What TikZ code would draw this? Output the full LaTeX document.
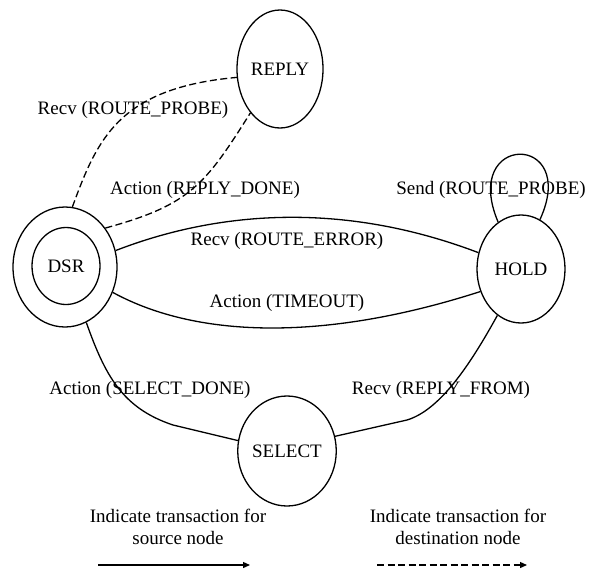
\documentclass[tikz,border=0pt]{standalone}
\usepackage{fontspec}
\setmainfont{Liberation Serif}
\usetikzlibrary{shapes.geometric,arrows.meta}

\tikzset{
	state/.style={draw,ellipse,line width=1.3pt,inner sep=0pt},
	srcline/.style={line width=1.3pt},
	dstline/.style={line width=1.3pt,dash pattern=on 7pt off 3.5pt},
	lbl/.style={font=\fontsize{19}{21.5}\selectfont,inner sep=1pt}
}

\begin{document}
\begin{tikzpicture}[x=1pt,y=-1pt,lbl]
	\useasboundingbox (0,0) rectangle (594,571);

	% States
	\node (dsr) at (65,267) [state,minimum width=104pt,minimum height=120pt] {};
	\node (dsrin) at (66,266) [state,minimum width=68pt,minimum height=77pt] {DSR};
	\node (reply) at (280,69) [state,minimum width=86pt,minimum height=118pt] {REPLY};
	\node (hold) at (521,269) [state,minimum width=88pt,minimum height=108pt] {HOLD};
	\node (select) at (287,451) [state,minimum width=92pt,minimum height=110pt] {SELECT};

	% destination node
	\draw[dstline] (dsr.83) .. controls (97,140) and (118,88) .. (reply.191);
	\draw[dstline] (dsr.44) .. controls (190,205) and (205,185) .. (reply.236);
	\draw[srcline] (hold.116) .. controls (460,132) and (580,132) .. (hold.69);

	% source node
	\draw[srcline] (dsr.18) .. controls (215,212) and (340,200) .. (hold.159);
	\draw[srcline] (dsr.332) .. controls (200,340) and (330,340) .. (hold.209);
	\draw[srcline] (dsr.291) .. controls (105,375) and (122,408) .. (173,425) -- (select.168);
	\draw[srcline] (select.17) -- (407,420) .. controls (440,410) and (470,365) .. (hold.243);

	% Labels
	\node (lprobe) at (133,110) {Recv (ROUTE\_PROBE)};
	\node (ldone) at (205,190) {Action (REPLY\_DONE)};
	\node (lerror) at (287,241) {Recv (ROUTE\_ERROR)};
	\node (ltime) at (287,303) {Action (TIMEOUT)};
	\node (lsend) at (491,190) {Send (ROUTE\_PROBE)};
	\node (lselect) at (150,390) {Action (SELECT\_DONE)};
	\node (lfrom) at (441,390) {Recv (REPLY\_FROM)};

	% Legend
	\node (legsrc) at (178,527) [align=center] {Indicate transaction for\\source node};
	\node (legdst) at (458,527) [align=center] {Indicate transaction for\\destination node};
	\coordinate (srca) at (98,565);
	\coordinate (srcb) at (250,565);
	\coordinate (dsta) at (377,565);
	\coordinate (dstb) at (527,565);
	\draw[srcline,-{Triangle[length=7pt,width=6pt]}] (srca) -- (srcb);
	\draw[dstline,-{Triangle[length=7pt,width=6pt]}] (dsta) -- (dstb);

\end{tikzpicture}
\end{document}
